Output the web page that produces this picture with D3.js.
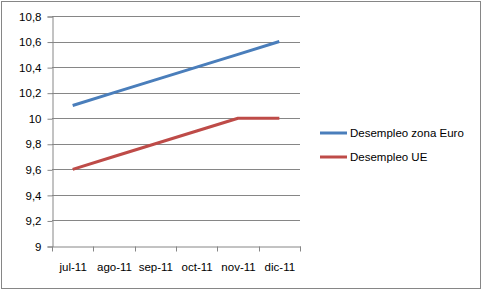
<!DOCTYPE html>
<html>
  <head>
    <meta charset="utf-8">
    <title>Desempleo</title>
    <style>
      body { margin: 0; background: white; }
      text { font-family: "Liberation Sans", Arial, sans-serif; font-size: 11.5px; fill: #000; }
    </style>
  </head>
  <body>
    <div id="chart"></div>
    <script src="https://d3js.org/d3.v7.min.js"></script>
    <script>
      var months = ["jul-11", "ago-11", "sep-11", "oct-11", "nov-11", "dic-11"];
      var euroZone = [10.1, 10.2, 10.3, 10.4, 10.5, 10.6];
      var ue = [9.6, 9.7, 9.8, 9.9, 10.0, 10.0];
      var yTicks = [9, 9.2, 9.4, 9.6, 9.8, 10, 10.2, 10.4, 10.6, 10.8];
      var seriesNames = ["Desempleo zona Euro", "Desempleo UE"];
      var colors = ["#4a7ebb", "#be4b48"];

      var width = 483, height = 291;
      var svg = d3.select("#chart").append("svg")
        .attr("width", width)
        .attr("height", height);

      // outer chart frame
      svg.append("rect")
        .attr("x", 1.5).attr("y", 1.5)
        .attr("width", 479).attr("height", 287)
        .attr("fill", "white")
        .attr("stroke", "#868686");

      var x = d3.scaleBand().domain(months).range([52, 300]);
      var y = d3.scaleLinear().domain([9, 10.8]).range([246, 16]);

      // gridlines
      svg.append("g").selectAll("line")
        .data(yTicks.slice(1))
        .enter().append("line")
        .attr("x1", 52).attr("x2", 300)
        .attr("y1", function(d) { return Math.round(y(d)) + 0.5; })
        .attr("y2", function(d) { return Math.round(y(d)) + 0.5; })
        .attr("stroke", "#868686");

      var fmt = function(d) { return d3.format("")(d).replace(".", ","); };

      var yAxis = svg.append("g")
        .attr("transform", "translate(52.5,0.5)")
        .call(d3.axisLeft(y).tickValues(yTicks).tickSize(5).tickPadding(6).tickFormat(fmt));

      var xAxis = svg.append("g")
        .attr("transform", "translate(0.5,246.5)")
        .call(d3.axisBottom(x).tickSize(0).tickPadding(16));
      xAxis.selectAll(".tick line").remove();

      // band boundary ticks
      xAxis.selectAll(".btick")
        .data(months.concat(["end"]))
        .enter().append("line")
        .attr("x1", function(d, i) { return Math.round(52 + i * x.step()); })
        .attr("x2", function(d, i) { return Math.round(52 + i * x.step()); })
        .attr("y1", 0).attr("y2", 5)
        .attr("stroke", "#868686");

      [yAxis, xAxis].forEach(function(a) {
        a.select(".domain").attr("stroke", "#868686");
        a.selectAll(".tick line").attr("stroke", "#868686");
        a.selectAll("text").style("font-family", "'Liberation Sans', Arial, sans-serif").style("font-size", "11.5px").attr("fill", "#000");
      });

      var line = d3.line()
        .x(function(d, i) { return x(months[i]) + x.bandwidth() / 2; })
        .y(function(d) { return y(d); });

      [euroZone, ue].forEach(function(s, i) {
        svg.append("path")
          .datum(s)
          .attr("d", line)
          .attr("fill", "none")
          .attr("stroke", colors[i])
          .attr("stroke-width", 3)
          .attr("stroke-linejoin", "round");
      });

      // legend
      var legend = svg.append("g").selectAll("g")
        .data(seriesNames)
        .enter().append("g")
        .attr("transform", function(d, i) { return "translate(320," + (133 + i * 24) + ")"; });
      legend.append("line")
        .attr("x1", 0).attr("x2", 27)
        .attr("stroke", function(d, i) { return colors[i]; })
        .attr("stroke-width", 3);
      legend.append("text")
        .attr("x", 30).attr("dy", "0.35em")
        .text(function(d) { return d; });
    </script>
  </body>
</html>
